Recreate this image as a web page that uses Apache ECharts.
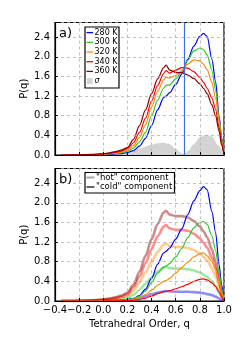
<!DOCTYPE html>
<html><head><meta charset="utf-8">
<script src="https://cdn.jsdelivr.net/npm/echarts@6/dist/echarts.min.js"></script>
<style>html,body{margin:0;padding:0;background:#fff}#c{width:250px;height:350px}</style>
</head><body><div id="c"></div>
<script>
const q = [-0.35,-0.3,-0.2,-0.1,0.0,0.05,0.1,0.15,0.2,0.25,0.3,0.35,0.4,0.45,0.5,0.52,0.55,0.6,0.65,0.7,0.75,0.8,0.83,0.86,0.9,0.93,0.96,0.98,1.0];
const temps = ['280 K','300 K','320 K','340 K','360 K'];
// panel a) totals
const p280 = [0,0,0,0.003,0.008,0.013,0.02,0.03,0.05,0.09,0.18,0.34,0.6,0.92,1.17,1.2,1.27,1.44,1.65,1.95,2.22,2.42,2.48,2.42,1.95,1.5,0.78,0.35,0];
const p300 = [0,0,0,0.005,0.012,0.02,0.03,0.045,0.075,0.14,0.27,0.46,0.8,1.12,1.36,1.42,1.43,1.55,1.7,1.93,2.12,2.18,2.15,2.04,1.72,1.33,0.75,0.33,0];
const p320 = [0,0,0,0.007,0.016,0.027,0.04,0.06,0.1,0.19,0.36,0.62,0.98,1.3,1.53,1.58,1.57,1.62,1.72,1.85,1.94,1.92,1.85,1.74,1.48,1.16,0.68,0.3,0];
const p340 = [0,0,0.002,0.01,0.02,0.035,0.055,0.08,0.13,0.25,0.46,0.75,1.1,1.42,1.66,1.72,1.67,1.73,1.78,1.77,1.7,1.58,1.48,1.36,1.16,0.93,0.56,0.25,0];
const p360 = [0,0,0.003,0.013,0.027,0.045,0.07,0.1,0.15,0.32,0.6,0.92,1.25,1.55,1.78,1.83,1.73,1.68,1.68,1.63,1.56,1.45,1.36,1.25,1.02,0.8,0.48,0.2,0];
// sigma
const sigmaQ = [-0.1,0.0,0.1,0.2,0.3,0.4,0.45,0.5,0.55,0.6,0.64,0.67,0.7,0.75,0.8,0.85,0.9,0.95,1.0];
const sigma  = [0,0.005,0.02,0.06,0.13,0.21,0.24,0.25,0.22,0.13,0.05,0.0,0.08,0.22,0.36,0.42,0.38,0.2,0];
const crossingQ = 0.67;
// panel b) hot components
const h280 = [0,0,0,0.001,0.003,0.005,0.008,0.012,0.019,0.036,0.066,0.1,0.14,0.17,0.195,0.2,0.195,0.19,0.19,0.19,0.18,0.17,0.16,0.14,0.12,0.09,0.05,0.02,0];
const h300 = [0,0,0.001,0.005,0.011,0.019,0.028,0.042,0.065,0.125,0.23,0.35,0.48,0.6,0.68,0.7,0.67,0.66,0.66,0.65,0.62,0.58,0.54,0.49,0.4,0.3,0.17,0.08,0];
const h320 = [0,0,0.002,0.008,0.019,0.032,0.048,0.07,0.11,0.21,0.38,0.59,0.8,1.0,1.15,1.17,1.12,1.1,1.1,1.08,1.04,0.97,0.9,0.83,0.67,0.51,0.29,0.13,0];
const h340 = [0,0,0.002,0.011,0.025,0.042,0.063,0.092,0.14,0.28,0.5,0.77,1.06,1.32,1.51,1.55,1.48,1.45,1.45,1.43,1.37,1.28,1.19,1.09,0.88,0.67,0.38,0.17,0];
const h360 = [0,0,0.003,0.013,0.03,0.05,0.075,0.11,0.17,0.33,0.6,0.92,1.26,1.57,1.8,1.84,1.76,1.73,1.73,1.7,1.63,1.52,1.42,1.3,1.05,0.8,0.45,0.2,0];
// panel b) cold components
const c280 = [0,0,0,0.002,0.005,0.008,0.012,0.018,0.03,0.055,0.11,0.24,0.46,0.75,0.98,1.01,1.08,1.26,1.47,1.76,2.04,2.25,2.33,2.27,1.82,1.4,0.73,0.33,0];
const c300 = [0,0,0,0.002,0.004,0.006,0.01,0.015,0.025,0.05,0.1,0.2,0.38,0.57,0.69,0.71,0.76,0.9,1.07,1.29,1.49,1.6,1.62,1.56,1.33,1.03,0.58,0.25,0];
const c320 = [0,0,0,0.001,0.003,0.005,0.008,0.012,0.02,0.035,0.07,0.13,0.22,0.32,0.4,0.42,0.46,0.57,0.68,0.79,0.9,0.96,0.98,0.92,0.8,0.65,0.39,0.17,0];
const c340 = [0,0,0,0,0.001,0.002,0.003,0.005,0.008,0.015,0.03,0.06,0.1,0.15,0.19,0.2,0.21,0.25,0.29,0.34,0.4,0.44,0.45,0.43,0.37,0.3,0.18,0.08,0];
const xTicks = [-0.4,-0.2,0.0,0.2,0.4,0.6,0.8,1.0];
const yTicks = [0.0,0.4,0.8,1.2,1.6,2.0,2.4];

const colors = ['#0000ff','#2ec82e','#ff8c00','#ff0000','#8b0000'];
const totals = [p280,p300,p320,p340,p360];
const hots = [h280,h300,h320,h340,h360];
const colds = [c280,c300,c320,c340];
const FF = 'DejaVu Sans';
const pairs = (xs, ys) => xs.map((x,i)=>[x, ys[i]]);
const fmt = v => { if (Math.abs(v) < 1e-9) return '0.0'; return v.toFixed(1).replace('-', '\u2212'); };
const onTick = (v, arr) => arr.some(t => Math.abs(t - v) < 1e-6);

function xAxis(idx, showLabels) {
  return {
    type:'value', gridIndex: idx, min:-0.4, max:1.0, interval:0.2, z:5,
    axisLine:{show:true, onZero:false, lineStyle:{color:'#000', width:1.2}},
    axisTick:{show:true, inside:true, length:3, lineStyle:{color:'#000'}},
    axisLabel:{show: showLabels, color:'#000', fontFamily:FF, fontSize:10, margin:4,
      formatter: v => onTick(v, xTicks) ? fmt(v) : ''},
    splitLine:{show:true, lineStyle:{color:'#b0b0b0', type:[3,3], width:0.8}},
    name: showLabels ? 'Tetrahedral Order, q' : '', nameLocation:'middle', nameGap:18, nameMoveOverlap:false,
    nameTextStyle:{color:'#000', fontFamily:FF, fontSize:10}
  };
}
function yAxis(idx) {
  return {
    type:'value', gridIndex: idx, min:0, max:2.7, interval:0.4, z:5,
    axisLine:{show:true, onZero:false, lineStyle:{color:'#000', width:1.2}},
    axisTick:{show:true, inside:true, length:3, lineStyle:{color:'#000'}},
    axisLabel:{color:'#000', fontFamily:FF, fontSize:10, margin:5,
      formatter: v => onTick(v, yTicks) ? fmt(v) : ''},
    splitLine:{show:true, lineStyle:{color:'#b0b0b0', type:[3,3], width:0.8}},
    name:'P(q)', nameLocation:'middle', nameGap:26, nameRotate:90, nameMoveOverlap:false,
    nameTextStyle:{color:'#000', fontFamily:FF, fontSize:10}
  };
}

const series = [];
series.push({type:'line', name:'σ', xAxisIndex:0, yAxisIndex:0, data: pairs(sigmaQ, sigma),
  symbol:'none', smooth:0.3, smoothMonotone:'x', lineStyle:{width:0}, areaStyle:{color:'#d3d3d3', opacity:1}, z:1,
  markLine:{silent:true, symbol:'none', label:{show:false}, lineStyle:{color:'#3a70e6', width:1.2, type:'solid'},
    data:[{xAxis: crossingQ}]}
});
totals.forEach((arr,i) => series.push({type:'line', name:temps[i], xAxisIndex:0, yAxisIndex:0,
  data: pairs(q, arr), symbol:'none', smooth:0.3, smoothMonotone:'x',
  lineStyle:{color:colors[i], width:1.2}, z:3}));
hots.forEach((arr,i) => series.push({type:'line', name:'hot '+temps[i], xAxisIndex:1, yAxisIndex:1,
  data: pairs(q, arr), symbol:'none', smooth:0.3, smoothMonotone:'x',
  lineStyle:{color:colors[i], width:2.6, opacity:0.45}, z:2}));
colds.forEach((arr,i) => series.push({type:'line', name:'cold '+temps[i], xAxisIndex:1, yAxisIndex:1,
  data: pairs(q, arr), symbol:'none', smooth:0.3, smoothMonotone:'x',
  lineStyle:{color:colors[i], width:1.2}, z:3}));

const gfx = [];
// top legend
const lgTop = 27, lgRow = 9.7, lgY0 = 32.6;
gfx.push({type:'rect', shape:{x:85, y:lgTop, width:34, height:61}, style:{fill:'#fff', stroke:'#000', lineWidth:1.2}, z:100});
temps.forEach((t,i) => {
  const y = lgY0 + i*lgRow;
  gfx.push({type:'line', shape:{x1:86.5, y1:y, x2:93, y2:y}, style:{stroke:colors[i], lineWidth:1.3}, z:101});
  gfx.push({type:'text', x:94.5, y:y, style:{text:t, fill:'#000', font:'8px "DejaVu Sans"', verticalAlign:'middle'}, z:101});
});
{
  const y = lgY0 + 5*lgRow;
  gfx.push({type:'rect', shape:{x:87, y:y-3, width:5.5, height:6}, style:{fill:'#d3d3d3'}, z:101});
  gfx.push({type:'text', x:94.5, y:y, style:{text:'σ', fill:'#000', font:'italic 8px "DejaVu Sans"', verticalAlign:'middle'}, z:101});
}
// bottom legend
gfx.push({type:'rect', shape:{x:85, y:172.5, width:89.5, height:20.5}, style:{fill:'#fff', stroke:'#000', lineWidth:1.2}, z:100});
gfx.push({type:'line', shape:{x1:86.5, y1:177.5, x2:94.5, y2:177.5}, style:{stroke:'#a8a8a8', lineWidth:2}, z:101});
gfx.push({type:'text', x:96, y:177.5, style:{text:'"hot" component', fill:'#000', font:'8.5px "DejaVu Sans"', verticalAlign:'middle'}, z:101});
gfx.push({type:'line', shape:{x1:86.5, y1:187, x2:94.5, y2:187}, style:{stroke:'#000', lineWidth:1.2}, z:101});
gfx.push({type:'text', x:96, y:187, style:{text:'"cold" component', fill:'#000', font:'8.5px "DejaVu Sans"', verticalAlign:'middle'}, z:101});
// panel labels
gfx.push({type:'text', x:59, y:33.5, style:{text:'a)', fill:'#000', font:'13px "DejaVu Sans"', verticalAlign:'middle'}, z:101});
gfx.push({type:'text', x:59, y:180, style:{text:'b)', fill:'#000', font:'13px "DejaVu Sans"', verticalAlign:'middle'}, z:101});

const chart = echarts.init(document.getElementById('c'), null, {renderer:'canvas'});
chart.setOption({
  animation:false,
  backgroundColor:'#fff',
  grid:[
    {left:55, top:22.5, width:169, height:132.5, show:true, borderColor:'#000', borderWidth:1.2, backgroundColor:'transparent'},
    {left:55, top:168.5, width:169, height:132.5, show:true, borderColor:'#000', borderWidth:1.2, backgroundColor:'transparent'}
  ],
  xAxis:[xAxis(0,false), xAxis(1,true)],
  yAxis:[yAxis(0), yAxis(1)],
  series: series,
  graphic: gfx
});
</script></body></html>
